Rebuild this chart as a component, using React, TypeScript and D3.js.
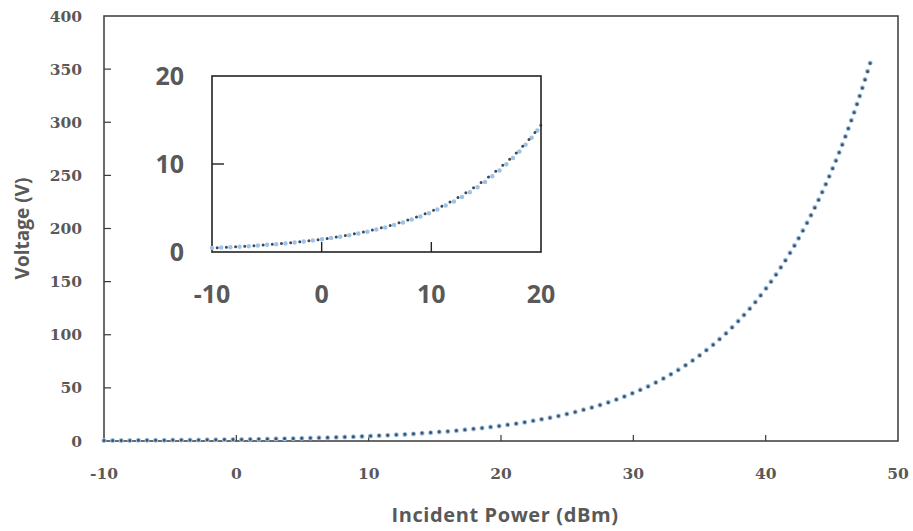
import React from "react";
import * as d3 from "d3";

// Incident power (dBm)
const power: number[] = [
  -10, -9, -8, -7, -6, -5, -4, -3, -2, -1, 0, 1, 2, 3, 4, 5, 6, 7, 8, 9, 10,
  11, 12, 13, 14, 15, 16, 17, 18, 19, 20, 21, 22, 23, 24, 25, 26, 27, 28, 29,
  30, 31, 32, 33, 34, 35, 36, 37, 38, 39, 40, 41, 42, 43, 44, 45, 46, 47, 48,
];

// Light blue dotted series (V)
const voltageBlue: number[] = [
  0.45, 0.51, 0.57, 0.64, 0.72, 0.81, 0.9, 1.01, 1.14, 1.28, 1.43, 1.61, 1.8,
  2.02, 2.27, 2.55, 2.86, 3.21, 3.6, 4.04, 4.53, 5.09, 5.71, 6.4, 7.18, 8.06,
  9.04, 10.15, 11.39, 12.77, 14.33, 16.08, 18.04, 20.25, 22.72, 25.49, 28.6,
  32.09, 36.0, 40.4, 45.33, 50.86, 57.06, 64.02, 71.84, 80.6, 90.44, 101.5,
  113.9, 127.7, 143.3, 160.8, 180.4, 202.5, 227.2, 254.9, 286.0, 320.9, 360.0,
];

// Black dotted series (V)
const voltageBlack: number[] = [
  0.47, 0.52, 0.58, 0.65, 0.73, 0.82, 0.92, 1.03, 1.16, 1.3, 1.46, 1.64, 1.84,
  2.07, 2.33, 2.61, 2.93, 3.29, 3.69, 4.13, 4.63, 5.22, 5.89, 6.63, 7.44, 8.33,
  9.31, 10.39, 11.58, 12.92, 14.42, 16.12, 18.06, 20.25, 22.7, 25.45, 28.55,
  32.0, 35.9, 40.3, 45.2, 50.7, 56.9, 63.9, 71.7, 80.4, 90.2, 101.2, 113.6,
  127.4, 143.0, 160.5, 180.1, 202.2, 226.9, 254.6, 285.7, 320.6, 359.6,
];

const mainXTicks: number[] = [-10, 0, 10, 20, 30, 40, 50];
const mainYTicks: number[] = [0, 50, 100, 150, 200, 250, 300, 350, 400];
const insetXTicks: number[] = [-10, 0, 10, 20];
const insetYTicks: number[] = [0, 10, 20];

const W = 913;
const H = 531;
const TEXT = "#595959";
const AXIS = "#3a3a3a";
const BLUE = "#9dc3e6";
const DARK = "#2a3240";

export default function App() {
  const x = d3.scaleLinear().domain([-10, 50]).range([104, 898]);
  const y = d3.scaleLinear().domain([0, 400]).range([441, 16]);

  const ix = d3.scaleLinear().domain([-10, 20]).range([212, 541]);
  const iy = d3.scaleLinear().domain([0, 20]).range([252, 76]);

  const pts = power.map((p, i) => ({ p, b: voltageBlue[i], k: voltageBlack[i] }));
  const insetPts = pts.filter((d) => d.p <= 20);

  type P = { p: number; b: number; k: number };
  const lineBlue = d3.line<P>().x((d) => x(d.p)).y((d) => y(d.b)).curve(d3.curveMonotoneX);
  const lineBlack = d3.line<P>().x((d) => x(d.p)).y((d) => y(d.k)).curve(d3.curveMonotoneX);
  const iLineBlue = d3.line<P>().x((d) => ix(d.p)).y((d) => iy(d.b)).curve(d3.curveMonotoneX);
  const iLineBlack = d3.line<P>().x((d) => ix(d.p)).y((d) => iy(d.k)).curve(d3.curveMonotoneX);

  const mainFont = "'DejaVu Serif', serif";
  const sansFont = "'Open Sans', 'Liberation Sans', sans-serif";

  return (
    <svg
      width={W}
      height={H}
      style={{ position: "absolute", left: 0, top: 0, background: "#fff" }}
    >
      {/* Main plot frame */}
      <rect
        x={x(-10)}
        y={y(400)}
        width={x(50) - x(-10)}
        height={y(0) - y(400)}
        fill="none"
        stroke={AXIS}
        strokeWidth={1.5}
      />
      {/* Main y ticks (inward) */}
      {mainYTicks.map((t) => (
        <g key={"my" + t}>
          {t > 0 && t < 400 && (
            <line x1={x(-10)} x2={x(-10) + 7} y1={y(t)} y2={y(t)} stroke={AXIS} strokeWidth={1.2} />
          )}
          <text
            x={82}
            y={y(t)}
            dy="0.36em"
            textAnchor="end"
            fontFamily={mainFont}
            fontWeight="bold"
            fontSize={15.5}
            fill={TEXT}
          >
            {t}
          </text>
        </g>
      ))}
      {/* Main x ticks (inward) */}
      {mainXTicks.map((t) => (
        <g key={"mx" + t}>
          {t > -10 && t < 50 && (
            <line x1={x(t)} x2={x(t)} y1={y(0)} y2={y(0) - 6} stroke={AXIS} strokeWidth={1.2} />
          )}
          <text
            x={x(t)}
            y={479}
            textAnchor="middle"
            fontFamily={mainFont}
            fontWeight="bold"
            fontSize={15.5}
            fill={TEXT}
          >
            {t}
          </text>
        </g>
      ))}

      {/* Main curves */}
      <path
        d={lineBlue(pts) || ""}
        fill="none"
        stroke={BLUE}
        strokeWidth={5}
        strokeDasharray="0 8.6"
        strokeLinecap="round"
      />
      <path
        d={lineBlack(pts) || ""}
        fill="none"
        stroke={DARK}
        strokeWidth={3}
        strokeDasharray="0 8.6"
        strokeLinecap="round"
        opacity={0.8}
      />

      {/* Axis titles */}
      <text
        x={(x(-10) + x(50)) / 2 + 4}
        y={522}
        textAnchor="middle"
        fontFamily={sansFont}
        fontWeight="bold"
        fontSize={20}
        letterSpacing={0.6}
        fill={TEXT}
      >
        Incident Power (dBm)
      </text>
      <text
        transform={`translate(29, ${(y(0) + y(400)) / 2}) rotate(-90)`}
        textAnchor="middle"
        fontFamily={sansFont}
        fontWeight="bold"
        fontSize={19}
        fill={TEXT}
      >
        Voltage (V)
      </text>

      {/* Inset */}
      <rect
        x={ix(-10)}
        y={iy(20)}
        width={ix(20) - ix(-10)}
        height={iy(0) - iy(20)}
        fill="#fff"
        stroke="#222"
        strokeWidth={1.6}
      />
      {insetYTicks.map((t) => (
        <g key={"iy" + t}>
          {t > 0 && t < 20 && (
            <line x1={ix(-10)} x2={ix(-10) + 12} y1={iy(t)} y2={iy(t)} stroke="#222" strokeWidth={1.4} />
          )}
          <text
            x={184}
            y={iy(t)}
            dy="0.35em"
            textAnchor="end"
            fontFamily={sansFont}
            fontWeight="bold"
            fontSize={25}
            fill={TEXT}
          >
            {t}
          </text>
        </g>
      ))}
      {insetXTicks.map((t) => (
        <g key={"ix" + t}>
          {t > -10 && t < 20 && (
            <line x1={ix(t)} x2={ix(t)} y1={iy(0)} y2={iy(0) - 10} stroke="#222" strokeWidth={1.4} />
          )}
          <text
            x={ix(t)}
            y={294}
            dy="0.35em"
            textAnchor="middle"
            fontFamily={sansFont}
            fontWeight="bold"
            fontSize={25}
            fill={TEXT}
          >
            {t}
          </text>
        </g>
      ))}
      <path
        d={iLineBlue(insetPts) || ""}
        fill="none"
        stroke={BLUE}
        strokeWidth={4.5}
        strokeDasharray="0 9.2"
        strokeLinecap="round"
      />
      <path
        d={iLineBlack(insetPts) || ""}
        fill="none"
        stroke={DARK}
        strokeWidth={3}
        strokeDasharray="0 9.2"
        strokeDashoffset={4}
        strokeLinecap="round"
        opacity={0.9}
      />
    </svg>
  );
}
